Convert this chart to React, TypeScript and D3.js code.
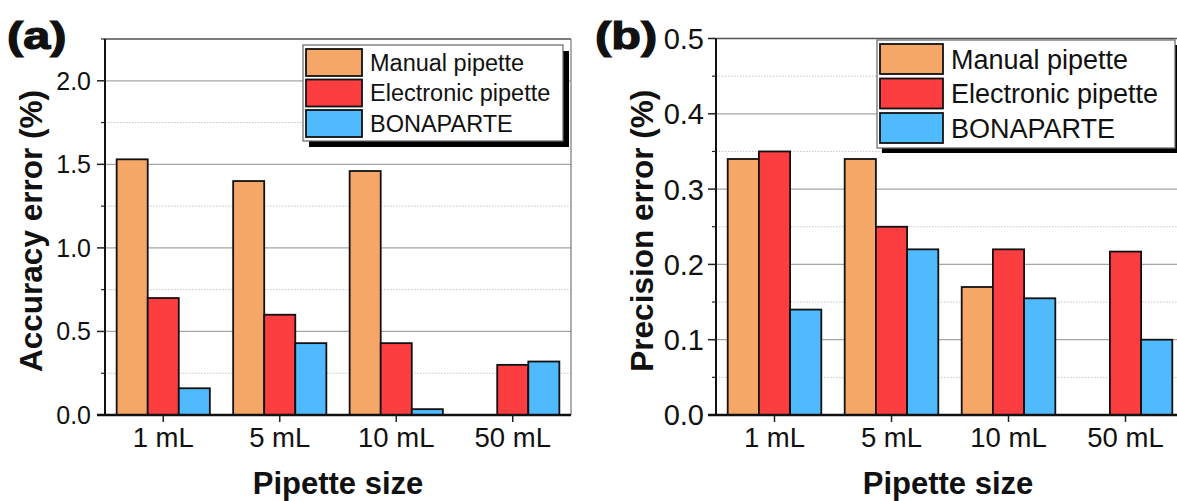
import React from "react"
import * as d3 from "d3"

const categories = ["1 mL", "5 mL", "10 mL", "50 mL"]
const seriesNames = ["Manual pipette", "Electronic pipette", "BONAPARTE"]
const seriesColors = ["#F4A767", "#FD3E40", "#4FBBFE"]

// accuracy error (%) — manual pipette has no 50 mL bar
const accuracyManual = [1.53, 1.4, 1.46, null]
const accuracyElectronic = [0.7, 0.6, 0.43, 0.3]
const accuracyBonaparte = [0.16, 0.43, 0.035, 0.32]

// precision error (%)
const precisionManual = [0.34, 0.34, 0.17, null]
const precisionElectronic = [0.35, 0.25, 0.22, 0.217]
const precisionBonaparte = [0.14, 0.22, 0.155, 0.1]

const accuracyMajor = [0, 0.5, 1.0, 1.5, 2.0]
const accuracyMinor = [0.25, 0.75, 1.25, 1.75, 2.25]
const precisionMajor = [0, 0.1, 0.2, 0.3, 0.4, 0.5]
const precisionMinor = [0.05, 0.15, 0.25, 0.35, 0.45]

const FONT = "'Liberation Sans', Arial, Helvetica, sans-serif"

type PanelProps = {
    letter: string
    yTitle: string
    series: (number | null)[][]
    yMax: number
    major: number[]
    minor: number[]
    left: number
    right: number
    top: number
    bottom: number
    tickFont: number
    tickEnd: number
    xTickFont: number
    titleX: number
    xTitleX: number
    letterX: number
    legend: { x: number; y: number; w: number; h: number; sw: number; sh: number; pitch: number; font: number; shadow: number }
}

const Panel = (p: PanelProps) => {
    const x = d3.scaleBand().domain(categories).range([p.left, p.right]).paddingInner(0).paddingOuter(0)
    const xs = d3
        .scaleBand()
        .domain(seriesNames)
        .range([0, x.bandwidth()])
        .paddingInner(0)
        .paddingOuter(0.375)
    const y = d3.scaleLinear().domain([0, p.yMax]).range([p.bottom, p.top])
    const fmt = d3.format(".1f")
    const lg = p.legend
    const midY = (p.top + p.bottom) / 2

    return (
        <g>
            {/* grid */}
            {p.minor.map((v) => (
                <line key={"mi" + v} x1={p.left} x2={p.right} y1={y(v)} y2={y(v)} stroke="#c4c4c4" strokeWidth={1} strokeDasharray="1.5,1.5" />
            ))}
            {p.major.filter((v) => v > 0 && v < p.yMax).map((v) => (
                <line key={"ma" + v} x1={p.left} x2={p.right} y1={y(v)} y2={y(v)} stroke="#a6a6a6" strokeWidth={1.3} />
            ))}
            {/* frame top / right */}
            <line x1={p.left} x2={p.right} y1={p.top} y2={p.top} stroke="#555" strokeWidth={1.5} />
            <line x1={p.right} x2={p.right} y1={p.top} y2={p.bottom} stroke="#777" strokeWidth={1.2} />

            {/* bars */}
            {p.series.map((vals, si) =>
                vals.map((v, ci) =>
                    v == null ? null : (
                        <rect
                            key={si + "-" + ci}
                            x={(x(categories[ci]) as number) + (xs(seriesNames[si]) as number)}
                            y={y(v)}
                            width={xs.bandwidth()}
                            height={p.bottom - y(v)}
                            fill={seriesColors[si]}
                            stroke="#111"
                            strokeWidth={1.8}
                        />
                    ),
                ),
            )}

            {/* y axis */}
            <line x1={p.left} x2={p.left} y1={p.top} y2={p.bottom} stroke="#111" strokeWidth={2} />
            {p.major.map((v) => (
                <g key={"t" + v}>
                    <line x1={p.left - 8} x2={p.left} y1={y(v)} y2={y(v)} stroke="#222" strokeWidth={1.5} />
                    <text x={p.tickEnd} y={y(v)} dy="0.36em" textAnchor="end" fontSize={p.tickFont} fontFamily={FONT} fill="#111">
                        {fmt(v)}
                    </text>
                </g>
            ))}
            {p.minor.map((v) => (
                <line key={"tm" + v} x1={p.left - 4} x2={p.left} y1={y(v)} y2={y(v)} stroke="#222" strokeWidth={1.2} />
            ))}

            {/* x axis */}
            <line x1={p.left - 8} x2={p.right} y1={p.bottom} y2={p.bottom} stroke="#111" strokeWidth={2.4} />
            {categories.map((c) => {
                const cx = (x(c) as number) + x.bandwidth() / 2
                return (
                    <g key={c}>
                        <line x1={cx} x2={cx} y1={p.bottom} y2={p.bottom + 7} stroke="#222" strokeWidth={1.5} />
                        <text x={cx} y={447} textAnchor="middle" fontSize={p.xTickFont} fontFamily={FONT} fill="#111">
                            {c}
                        </text>
                    </g>
                )
            })}

            {/* titles */}
            <text x={p.xTitleX} y={494} textAnchor="middle" fontSize={31} fontWeight="bold" fontFamily={FONT} fill="#111">
                Pipette size
            </text>
            <text
                transform={`translate(${p.titleX},${midY + 4}) rotate(-90)`}
                textAnchor="middle"
                fontSize={31.5}
                fontWeight="bold"
                fontFamily={FONT}
                fill="#111"
            >
                {p.yTitle}
            </text>
            <text
                transform={`translate(${p.letterX},49) scale(1.28,1)`}
                fontSize={38}
                fontWeight="bold"
                fontFamily={FONT}
                fill="#111"
                stroke="#111"
                strokeWidth={1.2}
            >
                {p.letter}
            </text>

            {/* legend */}
            <rect x={lg.x + lg.shadow} y={lg.y + lg.shadow} width={lg.w} height={lg.h} fill="#000" />
            <rect x={lg.x} y={lg.y} width={lg.w} height={lg.h} fill="#fff" stroke="#666" strokeWidth={1.2} />
            {seriesNames.map((s, i) => (
                <g key={s}>
                    <rect
                        x={lg.x + 3}
                        y={lg.y + 4 + i * lg.pitch}
                        width={lg.sw}
                        height={lg.sh}
                        fill={seriesColors[i]}
                        stroke="#111"
                        strokeWidth={1.8}
                    />
                    <text
                        x={lg.x + lg.sw + 11}
                        y={lg.y + 4 + i * lg.pitch + lg.sh / 2}
                        dy="0.36em"
                        fontSize={lg.font}
                        fontFamily={FONT}
                        fill="#111"
                    >
                        {s}
                    </text>
                </g>
            ))}
        </g>
    )
}

export default function App() {
    return (
        <svg
            width={1177}
            height={501}
            viewBox="0 0 1177 501"
            style={{ position: "fixed", left: 0, top: 0, background: "#fff" }}
        >
            <rect x={0} y={0} width={1177} height={501} fill="#fff" />
            <Panel
                letter="(a)"
                yTitle="Accuracy error (%)"
                series={[accuracyManual, accuracyElectronic, accuracyBonaparte]}
                yMax={2.25}
                major={accuracyMajor}
                minor={accuracyMinor}
                left={105}
                right={571}
                top={39}
                bottom={415}
                tickFont={25}
                tickEnd={91}
                xTickFont={27.5}
                titleX={42}
                xTitleX={338}
                letterX={7}
                legend={{ x: 303, y: 45, w: 260, h: 96, sw: 56, sh: 27, pitch: 30.5, font: 23.5, shadow: 6 }}
            />
            <Panel
                letter="(b)"
                yTitle="Precision error (%)"
                series={[precisionManual, precisionElectronic, precisionBonaparte]}
                yMax={0.5}
                major={precisionMajor}
                minor={precisionMinor}
                left={716}
                right={1184}
                top={38.5}
                bottom={415}
                tickFont={29}
                tickEnd={704}
                xTickFont={27.5}
                titleX={653}
                xTitleX={948}
                letterX={595}
                legend={{ x: 877, y: 40, w: 298, h: 108, sw: 63, sh: 30, pitch: 34.5, font: 27, shadow: 5 }}
            />
        </svg>
    )
}
